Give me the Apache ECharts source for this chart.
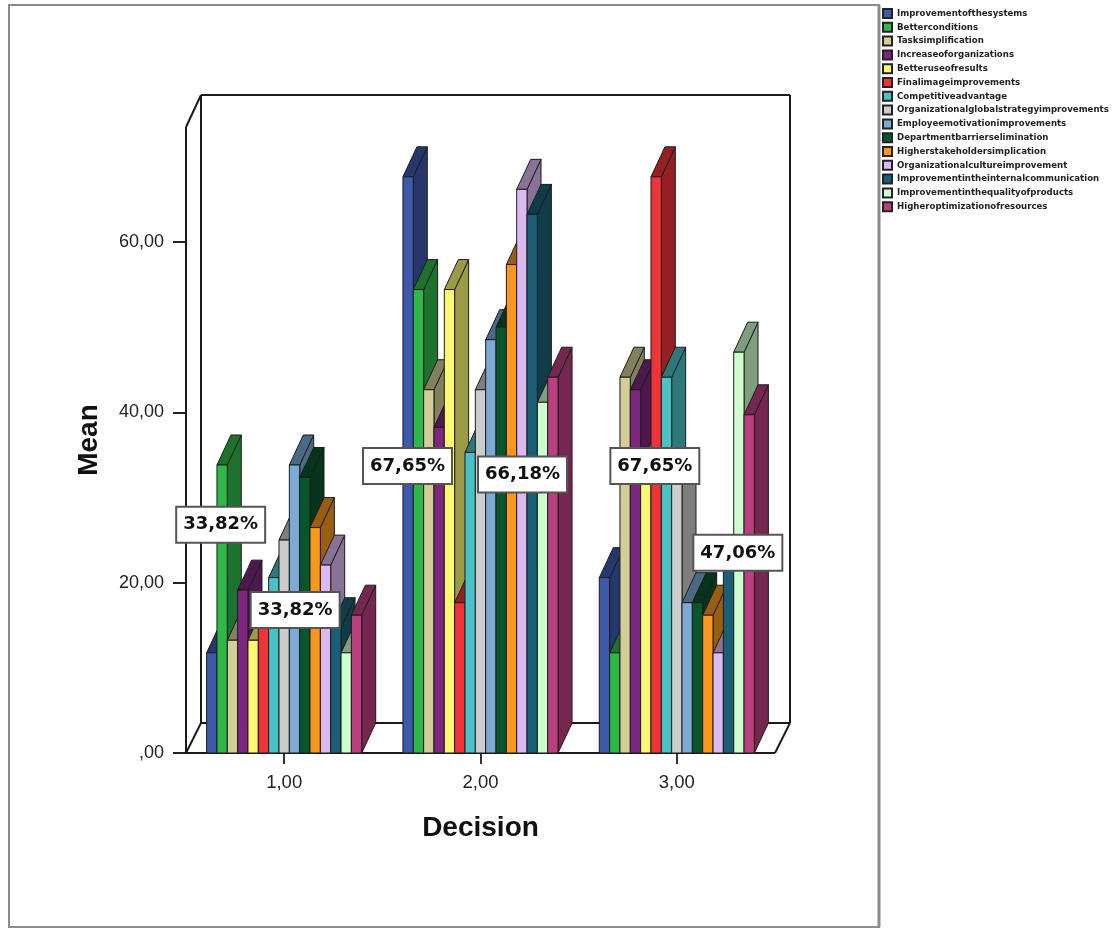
<!DOCTYPE html>
<html><head><meta charset="utf-8">
<style>html,body{margin:0;padding:0;background:#fff}#c{width:1114px;height:928px}</style>
<script src="https://cdn.jsdelivr.net/npm/echarts@6/dist/echarts.min.js"></script>
</head><body><div id="c"></div>
<script>
const categories = ['1,00','2,00','3,00'];
const seriesNames = ['Improvementofthesystems','Betterconditions','Tasksimplification','Increaseoforganizations','Betteruseofresults','Finalimageimprovements','Competitiveadvantage','Organizationalglobalstrategyimprovements','Employeemotivationimprovements','Departmentbarrierselimination','Higherstakeholdersimplication','Organizationalcultureimprovement','Improvementintheinternalcommunication','Improvementinthequalityofproducts','Higheroptimizationofresources'];
const colors = ['#3E58AC','#2EB848','#D3CE97','#7C277D','#FBF873','#EF3338','#48C2C5','#CCCCCC','#7AAAD5','#0A562C','#F8981D','#DDB9F1','#1A5F76','#CCFFCC','#BB3F7F'];
const v1 = [11.76,33.82,13.24,19.12,13.24,14.71,20.59,25.00,33.82,32.35,26.47,22.06,14.71,11.76,16.18];
const v2 = [67.65,54.41,42.65,38.24,54.41,17.65,35.29,42.65,48.53,50.00,57.35,66.18,63.24,41.18,44.12];
const v3 = [20.59,11.76,44.12,42.65,33.82,67.65,44.12,32.35,17.65,17.65,16.18,11.76,22.06,47.06,39.71];
const annotations = ['33,82%','33,82%','67,65%','66,18%','67,65%','47,06%'];
const annotationGroups = [0,0,1,1,2,2];
const annotationLevels = [26.8,16.8,33.7,32.7,33.7,23.5];
const annotationShift = [-63.5,11,-73,42,-22,61];

const DX = 14, DY = -30, WALL_DX = 15, WALL_TOP = 73.5, BAND = 0.79;
function shade(hex, k){
  const n = parseInt(hex.slice(1),16);
  const f = s => Math.round(((n>>s)&255)*k);
  return 'rgb('+f(16)+','+f(8)+','+f(0)+')';
}
const EDGE = '#1c1c1c';
function barRender(si){
  return function(params, api){
    const p = api.coord([api.value(0), api.value(1)]);
    const base = api.coord([api.value(0), 0]);
    const w = api.size([1,0])[0]*BAND/seriesNames.length;
    const x0 = p[0] + (si - seriesNames.length/2)*w, x1 = x0 + w;
    const yt = p[1], yb = base[1];
    const dark = shade(colors[si],0.62);
    const st = {stroke:EDGE, lineWidth:1, lineJoin:'round'};
    return {type:'group', children:[
      {type:'polygon', shape:{points:[[x1,yb],[x1+DX,yb+DY],[x1+DX,yt+DY],[x1,yt]]}, style:Object.assign({fill:dark},st)},
      {type:'polygon', shape:{points:[[x0,yt],[x0+DX,yt+DY],[x1+DX,yt+DY],[x1,yt]]}, style:Object.assign({fill:dark},st)},
      {type:'rect', shape:{x:x0,y:yt,width:w,height:yb-yt}, style:Object.assign({fill:colors[si]},st)}
    ]};
  };
}
function wallRender(params, api){
  const cs = params.coordSys;
  const L = cs.x, R = cs.x+cs.width;
  const T = api.coord([0,WALL_TOP])[1], B = api.coord([0,0])[1];
  const lines = [
    [L,B,L,T],[L,T,L+WALL_DX,T+DY-2],[L+WALL_DX,T+DY-2,L+WALL_DX,B+DY],
    [L+WALL_DX,T+DY-2,R+WALL_DX,T+DY-2],[R+WALL_DX,T+DY-2,R+WALL_DX,B+DY],
    [L+WALL_DX,B+DY,R+WALL_DX,B+DY],[L,B,L+WALL_DX,B+DY],[R,B,R+WALL_DX,B+DY],[L,B,R,B]
  ];
  return {type:'group', children:lines.map(l=>({type:'line',shape:{x1:l[0],y1:l[1],x2:l[2],y2:l[3]},style:{stroke:'#1a1a1a',lineWidth:2}}))};
}
function annotationRender(params, api){
  const i = params.dataIndex;
  const p = api.coord([api.value(0), api.value(1)]);
  return {type:'text', x:p[0]+annotationShift[i], y:p[1], style:{
    text:annotations[i], x:0, y:0, align:'center', verticalAlign:'middle',
    font:'bold 18px "DejaVu Sans"', fill:'#111',
    backgroundColor:'#fff', borderColor:'#555', borderWidth:2, padding:[8,6,8,6]
  }};
}
const groupValues = [v1,v2,v3];
const barSeries = seriesNames.map((name,si)=>({
  name, type:'custom', renderItem:barRender(si), z:3, silent:true,
  encode:{x:0,y:1},
  itemStyle:{color:colors[si], borderColor:'#222', borderWidth:1},
  data:categories.map((c,ci)=>[c,groupValues[ci][si]])
}));
const option = {
  animation:false, backgroundColor:'#fff',
  textStyle:{fontFamily:'"Liberation Sans"'},
  grid:{left:186,right:339,top:127,bottom:175,containLabel:false},
  xAxis:{type:'category',data:categories,boundaryGap:true,
    name:'Decision',nameLocation:'middle',nameGap:61,
    nameTextStyle:{fontSize:28,fontWeight:'bold',color:'#111',fontFamily:'"Liberation Sans"'},
    axisLine:{show:false},
    axisTick:{show:true,alignWithLabel:true,length:11,lineStyle:{color:'#333',width:2}},
    axisLabel:{fontSize:18.5,color:'#222',margin:20,fontFamily:'"Liberation Sans"'},
    splitLine:{show:false}},
  yAxis:{type:'value',min:0,max:WALL_TOP,
    name:'Mean',nameLocation:'middle',nameGap:83,
    nameTextStyle:{fontSize:28,fontWeight:'bold',color:'#111',fontFamily:'"Liberation Sans"'},
    axisLine:{show:false},
    axisTick:{show:true,length:13,lineStyle:{color:'#222',width:2},customValues:[0,20,40,60]},
    axisLabel:{fontSize:18,color:'#222',margin:22,fontFamily:'"Liberation Sans"',
      customValues:[0,20,40,60],
      formatter:v=>v===0?',00':v.toFixed(2).replace('.',',')},
    splitLine:{show:false}},
  legend:{show:true,orient:'vertical',left:882,top:8,itemWidth:9,itemHeight:9,itemGap:2.8,padding:0,
    selectedMode:false,icon:'rect',data:seriesNames,
    textStyle:{fontSize:8.6,lineHeight:9,fontWeight:'bold',color:'#222',fontFamily:'"DejaVu Sans"'}},
  graphic:[
    {type:'rect',z:0,shape:{x:9,y:5,width:870,height:922},style:{fill:'none',stroke:'#8a8a8a',lineWidth:2}},
    {type:'line',z:0,shape:{x1:879,y1:5,x2:879,y2:927},style:{stroke:'#8a8a8a',lineWidth:3}}
  ],
  series:[
    {type:'custom',name:'walls',renderItem:wallRender,z:2,silent:true,data:[[categories[0],0]],encode:{x:0,y:1}},
    ...barSeries,
    {type:'custom',name:'annotations',renderItem:annotationRender,z:5,silent:true,encode:{x:0,y:1},
     data:annotationGroups.map((g,i)=>[categories[g],annotationLevels[i]])}
  ]
};
echarts.init(document.getElementById('c'),null,{renderer:'canvas'}).setOption(option);
</script></body></html>
